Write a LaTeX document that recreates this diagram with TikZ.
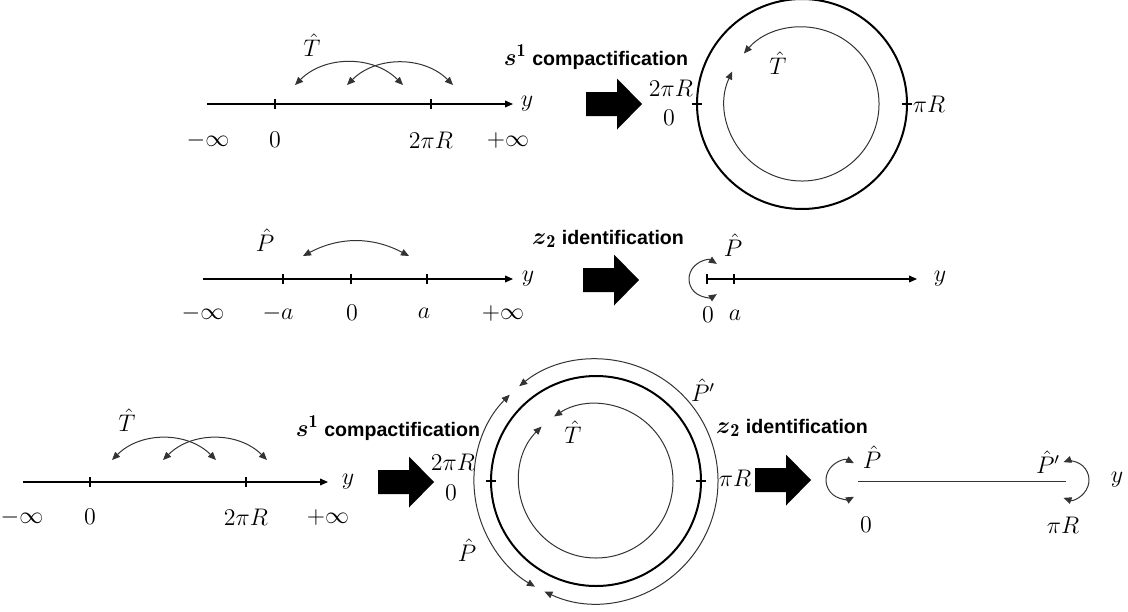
\documentclass[tikz,border=0pt]{standalone}
\usepackage{amsmath}
\usepackage{fontspec}
\setsansfont{Liberation Sans}
\usetikzlibrary{arrows.meta, calc}

\begin{document}
\begin{tikzpicture}[
  x=0.5pt, y=0.5pt,
  every node/.style={font=\fontsize{12}{14}\selectfont, inner sep=1pt},
  axis/.style={line width=0.6pt, -{Triangle[length=4pt, width=3.4pt]}},
  seg/.style={line width=0.5pt, black!80},
  tick/.style={line width=0.8pt},
  hop/.style={line width=0.5pt, black!80, {Triangle[length=4pt, width=3.4pt]}-{Triangle[length=4pt, width=3.4pt]}},
  ring/.style={line width=1pt},
  bigarr/.pic={\fill (-28,-12) -- (3,-12) -- (3,-25.5) -- (28,0) -- (3,25.5) -- (3,12) -- (-28,12) -- cycle;},
  caption/.style={font=\fontsize{9.8}{12}\selectfont\sffamily\bfseries},
]
  \useasboundingbox (0,0) rectangle (1128,-611);

  % Row 1: real line -> circle
  \coordinate (a1s) at (207,-104);
  \coordinate (a1e) at (513,-104);
  \draw[axis] (a1s) -- (a1e);
  \draw[tick] (275,-99) -- (275,-109);
  \draw[tick] (431,-99) -- (431,-109);
  \node (r1minf) at (208,-140) {$-\infty$};
  \node (r1zero) at (275,-140) {$0$};
  \node (r1per) at (431,-140) {$2\pi R$};
  \node (r1pinf) at (508,-140) {$+\infty$};
  \node (r1y) at (527,-104) {$y$};
  \node (r1T) at (312,-45) {$\hat{T}$};
  \coordinate (h1a) at (295,-85);
  \coordinate (h1b) at (403,-85);
  \coordinate (h1c) at (347,-85);
  \coordinate (h1d) at (453,-85);
  \draw[hop] (h1a) to[bend left=45] (h1b);
  \draw[hop] (h1c) to[bend left=45] (h1d);

  \node[caption] (cap1) at (596,-57) {{\fontsize{13}{14}\selectfont$\boldsymbol{s}^{\mathbf{1}}$} compactification};
  \pic (arr1) at (614,-104) {bigarr};
  \node (c1per) at (671,-88) {$2\pi R$};
  \node (c1zero) at (669,-118) {$0$};

  \coordinate (c1) at (802,-104);
  \draw[ring] (c1) circle[radius=105];
  \draw[hop] ($(c1)+(155:77)$) arc[start angle=155, end angle=499, radius=77];
  \draw[tick] ($(c1)+(180:105)+(-5,0)$) -- ++(10,0);
  \draw[tick] ($(c1)+(0:105)+(-5,0)$) -- ++(10,0);
  \node (c1T) at (778,-63) {$\hat{T}$};
  \node (c1half) at (929,-104) {$\pi R$};

  % Row 2: real line -> half line
  \coordinate (a2s) at (203,-279);
  \coordinate (a2e) at (513,-279);
  \draw[axis] (a2s) -- (a2e);
  \draw[tick] (283,-274) -- (283,-284);
  \draw[tick] (351,-274) -- (351,-284);
  \draw[tick] (427,-274) -- (427,-284);
  \node (r2minf) at (203,-313) {$-\infty$};
  \node (r2ma) at (278,-313) {$-a$};
  \node (r2zero) at (352,-313) {$0$};
  \node (r2a) at (424,-313) {$a$};
  \node (r2pinf) at (503,-313) {$+\infty$};
  \node (r2y) at (528,-279) {$y$};
  \node (r2P) at (265,-240) {$\hat{P}$};
  \coordinate (h2a) at (303,-256);
  \coordinate (h2b) at (409,-256);
  \draw[hop] (h2a) to[bend left=28] (h2b);

  \node[caption] (cap2) at (608,-239) {{\fontsize{13}{14}\selectfont$\boldsymbol{z}_{\mathbf{2}}$} identification};
  \pic (arr2) at (611,-280) {bigarr};

  \coordinate (b2s) at (707,-279);
  \coordinate (b2e) at (917,-279);
  \draw[axis] (b2s) -- (b2e);
  \draw[tick] (707,-274) -- (707,-284);
  \draw[tick] (734,-274) -- (734,-284);
  \coordinate (f2) at (707,-279);
  \draw[hop] ($(f2)+(57:18)$) arc[start angle=57, end angle=303, radius=18];
  \node (b2P) at (733,-245) {$\hat{P}$};
  \node (b2zero) at (708,-315) {$0$};
  \node (b2a) at (735,-315) {$a$};
  \node (b2y) at (940,-279) {$y$};

  % Row 3: real line -> circle -> interval
  \coordinate (a3s) at (23,-482);
  \coordinate (a3e) at (328,-482);
  \draw[axis] (a3s) -- (a3e);
  \draw[tick] (90,-477) -- (90,-487);
  \draw[tick] (246,-477) -- (246,-487);
  \node (r3minf) at (22,-517) {$-\infty$};
  \node (r3zero) at (90,-517) {$0$};
  \node (r3per) at (246,-517) {$2\pi R$};
  \node (r3pinf) at (328,-517) {$+\infty$};
  \node (r3y) at (348,-482) {$y$};
  \node (r3T) at (127,-420) {$\hat{T}$};
  \coordinate (h3a) at (112,-460);
  \coordinate (h3b) at (216,-460);
  \coordinate (h3c) at (163,-460);
  \coordinate (h3d) at (267,-460);
  \draw[hop] (h3a) to[bend left=45] (h3b);
  \draw[hop] (h3c) to[bend left=45] (h3d);

  \node[caption] (cap3) at (388,-428) {{\fontsize{13}{14}\selectfont$\boldsymbol{s}^{\mathbf{1}}$} compactification};
  \pic (arr3) at (406,-482) {bigarr};
  \node (c3per) at (453,-462) {$2\pi R$};
  \node (c3zero) at (451,-493) {$0$};

  \coordinate (c3) at (596,-481);
  \draw[ring] (c3) circle[radius=105];
  \draw[hop] ($(c3)+(135:77)$) arc[start angle=135, end angle=483, radius=77];
  \draw[hop] ($(c3)+(135:122)$) arc[start angle=135, end angle=240, radius=122];
  \draw[hop] ($(c3)+(245:122)$) arc[start angle=245, end angle=489, radius=122];
  \draw[tick] ($(c3)+(180:105)+(-5,0)$) -- ++(10,0);
  \draw[tick] ($(c3)+(0:105)+(-5,0)$) -- ++(10,0);
  \node (c3T) at (573,-432) {$\hat{T}$};
  \node (c3Pp) at (703,-390) {$\hat{P}'$};
  \node (c3P) at (467,-550) {$\hat{P}$};
  \node (c3half) at (735,-478) {$\pi R$};

  \node[caption] (cap4) at (792,-428) {{\fontsize{13}{14}\selectfont$\boldsymbol{z}_{\mathbf{2}}$} identification};
  \pic (arr4) at (783,-480) {bigarr};

  \coordinate (b3s) at (858,-481);
  \coordinate (b3e) at (1066,-481);
  \draw[seg] (b3s) -- (b3e);
  \coordinate (f3l) at (845,-480);
  \coordinate (f3r) at (1070,-480);
  \draw[hop] ($(f3l)+(62:19)$) arc[start angle=62, end angle=298, radius=19];
  \draw[hop] ($(f3r)+(-110:19)$) arc[start angle=-110, end angle=110, radius=19];
  \node (b3P) at (872,-457) {$\hat{P}$};
  \node (b3Pp) at (1048,-462) {$\hat{P}'$};
  \node (b3zero) at (866,-525) {$0$};
  \node (b3half) at (1063,-525) {$\pi R$};
  \node (b3y) at (1117,-480) {$y$};
\end{tikzpicture}
\end{document}
